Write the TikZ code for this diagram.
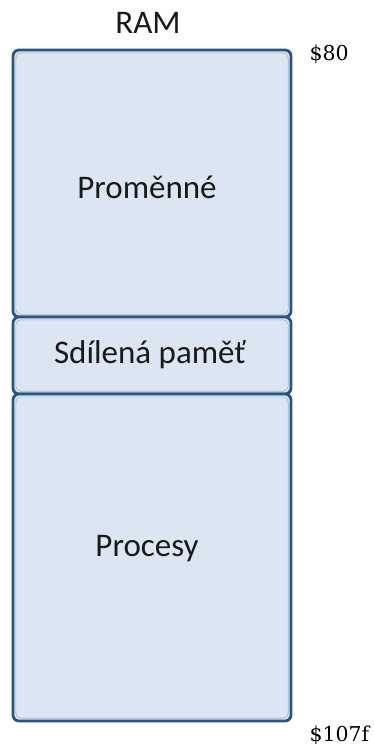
\documentclass[tikz,border=0pt]{standalone}
\usepackage{fontspec}
\setmainfont{Carlito}
\newfontfamily\addrfont{DejaVu Serif}
\definecolor{frameblue}{HTML}{2A5582}
\definecolor{cellfill}{HTML}{DCE6F2}
\definecolor{celledge}{HTML}{A9B4C0}
\tikzset{
  segment/.style={draw=frameblue, line width=2.8pt, fill=cellfill, rounded corners=6pt},
  inner/.style={draw=celledge, line width=0.6pt, rounded corners=5pt},
  label/.style={font=\fontsize{33}{38}\selectfont, text=black!90},
  addr/.style={font=\addrfont\fontsize{20.5}{24}\selectfont, text=black, anchor=west}
}
\begin{document}
\begin{tikzpicture}[x=1pt,y=-1pt]
\useasboundingbox (0,0) rectangle (373,745);
% memory segments, top to bottom
\draw[segment] (13,50) rectangle (291,317);
\draw[segment] (13,317) rectangle (291,394);
\draw[segment] (13,394) rectangle (291,721);
% light inner outlines of each segment
\draw[inner] (15.8,52.8) rectangle (288.2,314.2);
\draw[inner] (15.8,319.8) rectangle (288.2,391.2);
\draw[inner] (15.8,396.8) rectangle (288.2,718.2);
% segment names
\node[label] (vars) at (147,187) {Proměnné};
\node[label] (shared) at (150,355) {Sdílená paměť};
\node[label] (procs) at (147,549) {Procesy};
% heading and address bounds
\node[label] (ram) at (148,23) {RAM};
\node[addr] (start) at (306,54) {\$80};
\node[addr] (stop) at (306,735) {\$107f};
\end{tikzpicture}
\end{document}
